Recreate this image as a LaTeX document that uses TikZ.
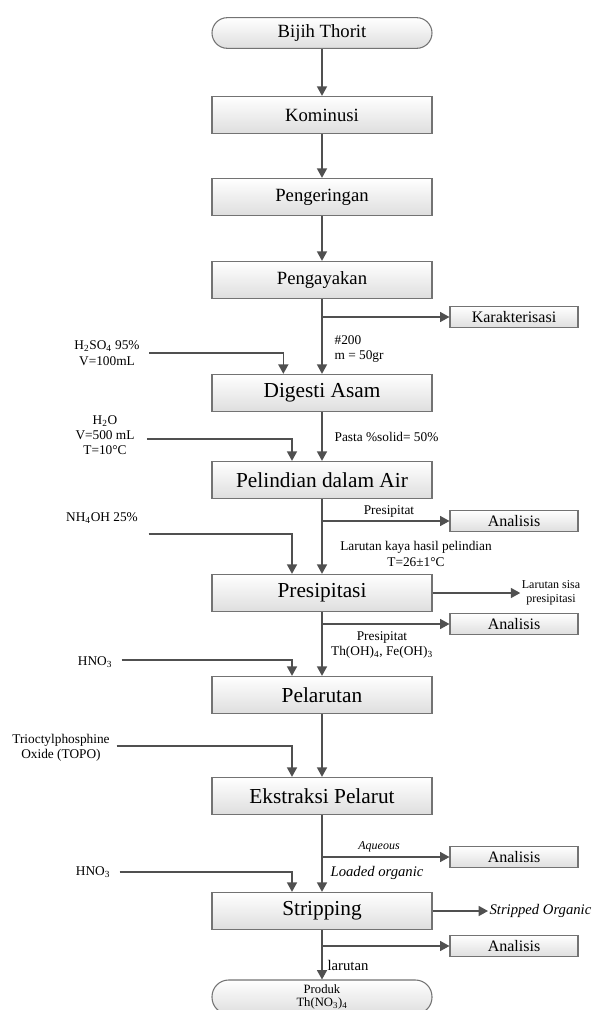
\documentclass[tikz,border=0pt]{standalone}
\usepackage{fontspec}
\setmainfont{Liberation Serif}
\usetikzlibrary{arrows.meta}

\definecolor{boxline}{RGB}{115,115,115}
\definecolor{flowline}{RGB}{80,80,80}
\definecolor{boxshade}{RGB}{222,222,222}

\tikzset{
  procbox/.style={draw=boxline, line width=0.8pt, top color=white, bottom color=boxshade,
    minimum width=165pt, minimum height=28pt, inner sep=0pt, font=\fontsize{16}{18}\selectfont},
  smallproc/.style={procbox, font=\fontsize{14}{16}\selectfont},
  termbox/.style={smallproc, rounded corners=11.5pt, minimum height=23pt},
  sidebox/.style={procbox, minimum width=96pt, minimum height=16pt, font=\fontsize{12}{14}\selectfont},
  lbl/.style={font=\fontsize{10}{11.5}\selectfont, align=center, inner sep=1pt},
  flow/.style={draw=flowline, line width=1pt, -{Triangle[width=7.5pt,length=7pt]}},
}

\begin{document}
\begin{tikzpicture}[x=0.75pt, y=-0.75pt]
    \useasboundingbox (0,0) rectangle (598,1010);

    % Main process
    \node[termbox] (bijih) at (322,33) {Bijih Thorit};
    \node[smallproc] (komin) at (322,115) {Kominusi};
    \node[smallproc] (kering) at (322,197) {Pengeringan};
    \node[smallproc] (ayak) at (322,280) {Pengayakan};
    \node[procbox] (digesti) at (322,393) {Digesti Asam};
    \node[procbox] (lindi) at (322,480) {Pelindian dalam Air};
    \node[procbox] (presip) at (322,593) {Presipitasi};
    \node[procbox] (larut) at (322,695) {Pelarutan};
    \node[procbox] (ekstr) at (322,796) {Ekstraksi Pelarut};
    \node[procbox] (strip) at (322,911) {Stripping};
    \node[termbox, minimum height=25.5pt, rounded corners=12.5pt, align=center,
      font=\fontsize{9.5}{9.5}\selectfont] (produk) at (322,997)
      {Produk\\Th(NO\textsubscript{3})\textsubscript{4}};

    \foreach \a/\b in {bijih/komin, komin/kering, kering/ayak, ayak/digesti, digesti/lindi,
      lindi/presip, presip/larut, larut/ekstr, ekstr/strip, strip/produk}
      \draw[flow] (\a) -- (\b);

    % Side boxes
    \node[sidebox] (karak) at (514,317) {Karakterisasi};
    \node[sidebox] (anl1) at (514,521) {Analisis};
    \node[sidebox] (anl2) at (514,624) {Analisis};
    \node[sidebox] (anl3) at (514,857) {Analisis};
    \node[sidebox] (anl4) at (514,946) {Analisis};

    \draw[flow] (ayak |- karak) -- (karak);
    \draw[flow] (lindi |- anl1) -- (anl1);
    \draw[flow] (presip |- anl2) -- (anl2);
    \draw[flow] (ekstr |- anl3) -- (anl3);
    \draw[flow] (strip |- anl4) -- (anl4);

    % Outputs
    \node[lbl, font=\fontsize{9}{10.5}\selectfont] (sisa) at (551,593) {Larutan sisa\\presipitasi};
    \draw[flow] (presip) -- (sisa);
    \node[lbl, anchor=west, font=\itshape\fontsize{11}{13}\selectfont] (stripped) at (488,911) {Stripped Organic};
    \draw[flow] (strip) -- (stripped);

    % Feeds
    \node[lbl] (h2so4) at (107,353) {H\textsubscript{2}SO\textsubscript{4} 95\%\\V=100mL};
    \draw[flow] ([xshift=6pt]h2so4.east) -| ([xshift=-29pt]digesti.north);
    \node[lbl] (h2o) at (105,435) {H\textsubscript{2}O\\V=500 mL\\T=10°C};
    \draw[flow] ([xshift=8pt,yshift=-3pt]h2o.east) -| ([xshift=-22.5pt]lindi.north);
    \node[lbl] (nh4oh) at (102,518) {NH\textsubscript{4}OH 25\%};
    \draw[flow] ([xshift=7pt,yshift=-12pt]nh4oh.east) -| ([xshift=-22.5pt]presip.north);
    \node[lbl] (hno3a) at (95,662) {HNO\textsubscript{3}};
    \draw[flow] ([xshift=6pt,yshift=1.5pt]hno3a.east) -| ([xshift=-22.5pt]larut.north);
    \node[lbl] (topo) at (61,748) {Trioctylphosphine\\Oxide (TOPO)};
    \draw[flow] ([xshift=4pt,yshift=1.5pt]topo.east) -| ([xshift=-22.5pt]ekstr.north);
    \node[lbl] (hno3b) at (93,872) {HNO\textsubscript{3}};
    \draw[flow] ([xshift=6pt]hno3b.east) -| ([xshift=-22.5pt]strip.north);

    % Labels
    \node[lbl, anchor=west, align=left] (ayakan) at (333,349) {\#200\\m = 50gr};
    \node[lbl, anchor=west] (pasta) at (333,437) {Pasta \%solid= 50\%};
    \node[lbl] (presipa) at (389,511) {Presipitat};
    \node[lbl] (kaya) at (416,554) {Larutan kaya hasil pelindian\\T=26±1°C};
    \node[lbl] (presipb) at (382,645) {Presipitat\\Th(OH)\textsubscript{4}, Fe(OH)\textsubscript{3}};
    \node[lbl, font=\itshape\fontsize{9}{11}\selectfont] (aqueous) at (379,847) {Aqueous};
    \node[lbl, font=\itshape\fontsize{11}{13}\selectfont] (loaded) at (377,873) {Loaded organic};
    \node[lbl, font=\fontsize{11}{13}\selectfont] (larutan) at (348,965) {larutan};
\end{tikzpicture}
\end{document}
